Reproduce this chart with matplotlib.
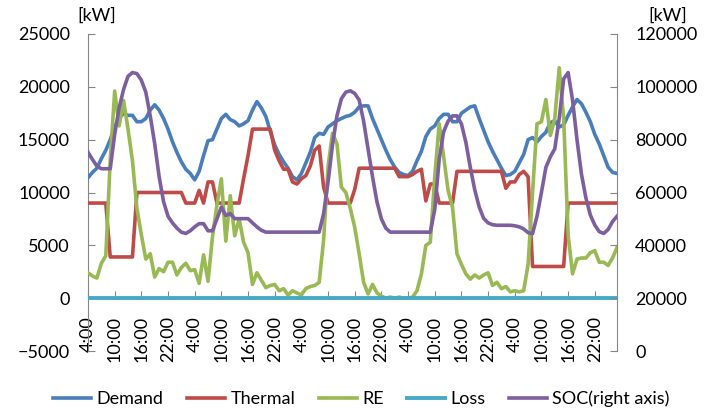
import matplotlib
matplotlib.use("Agg")
import matplotlib.pyplot as plt

plt.rcParams['font.family'] = ['Lato', 'DejaVu Sans']

# hourly values, 5 days starting at 4:00
demand = [11400, 11900, 12300, 13200, 14000, 15000, 16200, 17000, 17500, 17300, 17300, 16700,
          16700, 17000, 17800, 18300, 17800, 17000, 16000, 14800, 13800, 12900, 12200, 11800,
          11200, 12000, 13500, 14900, 15000, 16000, 17000, 17400, 16900, 16700, 16300, 16500,
          16800, 17800, 18600, 18000, 17200, 15800, 14500, 13600, 12900, 12300, 11500, 11200,
          11800, 12800, 13800, 15200, 15600, 15500, 16200, 16500, 16800, 17000, 17200, 17300,
          17600, 18100, 18200, 18200, 17000, 16000, 15000, 14000, 13100, 12400, 11900, 11700,
          11600, 12000, 13000, 13900, 15300, 16000, 16300, 17000, 17400, 17400, 16700, 16700,
          17500, 17800, 18100, 18200, 17000, 15900, 14800, 13900, 13100, 12300, 11600, 11700,
          12000, 12800, 13600, 15000, 15200, 14800, 15300, 15700, 16600, 16800, 16200, 16400,
          17300, 18100, 18800, 18400, 17600, 16700, 15500, 14600, 13500, 12400, 11900, 11800]

thermal = [9000, 9000, 9000, 9000, 9000, 3900, 3900, 3900, 3900, 3900, 3900, 10000,
           10000, 10000, 10000, 10000, 10000, 10000, 10000, 10000, 10000, 10000, 9000, 9000,
           9000, 10200, 9000, 11000, 11000, 9000, 9000, 9000, 9000, 9000, 9000, 11300,
           13500, 16000, 16000, 16000, 16000, 16000, 14000, 13000, 12200, 12200, 11000, 10800,
           11300, 11600, 12500, 14000, 14400, 10500, 9000, 9000, 9000, 9000, 9000, 9000,
           10300, 12300, 12300, 12300, 12300, 12300, 12300, 12300, 12300, 12300, 11500, 11500,
           11500, 11700, 12000, 12200, 9200, 10800, 10800, 9000, 9000, 9000, 9000, 12000,
           12000, 12000, 12000, 12000, 12000, 12000, 12000, 12000, 12000, 12000, 10400, 11000,
           11000, 11700, 12000, 11500, 3000, 3000, 3000, 3000, 3000, 3000, 3000, 3000,
           9000, 9000, 9000, 9000, 9000, 9000, 9000, 9000, 9000, 9000, 9000, 9000]

re = [2400, 2100, 1900, 3300, 4000, 13000, 19600, 16300, 18700, 16000, 13000, 8500,
      6000, 3700, 4200, 2000, 2800, 2500, 3400, 3400, 2200, 2900, 3300, 2600,
      2700, 1400, 4100, 1600, 5800, 8800, 11300, 5400, 9700, 5900, 7500, 5300,
      4300, 1300, 2400, 1700, 1000, 1200, 1300, 700, 900, 300, 700, 500,
      300, 900, 1100, 1200, 1500, 5500, 12500, 15600, 14600, 10500, 10000, 8500,
      6700, 4200, 1500, 400, 1300, 500, 200, 0, 100, 0, 100, 0,
      0, 100, 700, 2300, 5000, 5300, 11500, 16500, 13400, 10200, 8600, 4200,
      3200, 2300, 1800, 2200, 1900, 2200, 2400, 1200, 1500, 900, 1100, 600,
      700, 600, 700, 3200, 10000, 16500, 16700, 18800, 15400, 17000, 21800, 17000,
      6000, 2300, 3700, 3800, 3800, 4300, 4500, 3400, 3400, 3100, 3800, 4800]

loss = [0] * 120

soc = [75200, 72500, 70000, 69000, 69000, 69000, 82000, 92000, 99000, 104000, 105400, 105000,
       102500, 98000, 89000, 78500, 66000, 56500, 51000, 48500, 46500, 45000, 44500, 45500,
       47000, 48200, 48200, 45500, 45500, 50000, 54500, 51300, 52000, 50100, 50100, 50100,
       50100, 48500, 47000, 45700, 45000, 45000, 45000, 45000, 45000, 45000, 45000, 45000,
       45000, 45000, 45000, 45000, 45000, 52000, 64000, 78000, 89000, 95500, 98000, 98500,
       97500, 95000, 87000, 76500, 66000, 56500, 50000, 46500, 45000, 45000, 45000, 45000,
       45000, 45000, 45000, 45000, 45000, 45000, 53500, 72500, 83000, 87000, 89000, 89000,
       86000, 79000, 69500, 61000, 54500, 50200, 48500, 47800, 47600, 47600, 47600, 47600,
       47400, 47000, 46200, 44800, 44400, 51000, 60000, 69500, 73500, 76500, 88000, 103000,
       105400, 95000, 80000, 67000, 58000, 51500, 47700, 45200, 44500, 46000, 49000, 51000]

tick_labels = ['4:00', '10:00', '16:00', '22:00'] * 5

hours = list(range(len(demand)))
gray = '#868686'
fs = 13

fig = plt.figure(figsize=(7.09, 4.09), dpi=100)
ax = fig.add_axes([88 / 709, 1 - 351 / 409, (617 - 88) / 709, (351 - 34) / 409])
ax2 = ax.twinx()

l1, = ax.plot(hours, demand, color='#4A7EBB', lw=2.6, label='Demand', zorder=3)
l2, = ax.plot(hours, thermal, color='#BE4B48', lw=2.6, label='Thermal', zorder=3)
l3, = ax.plot(hours, re, color='#98B954', lw=2.6, label='RE', zorder=3)
l4, = ax.plot(hours, loss, color='#46AAC5', lw=2.8, label='Loss', zorder=3)
l5, = ax2.plot(hours, soc, color='#7D5FA0', lw=2.6, label='SOC(right axis)', zorder=3)

ax.set_xlim(0, len(demand) - 1)
ax.set_ylim(-5000, 25000)
ax.set_yticks(range(-5000, 25001, 5000))
ax2.set_ylim(0, 120000)
ax2.set_yticks(range(0, 120001, 20000))

ax.set_xticks(range(0, len(demand), 6))
ax.set_xticklabels(tick_labels)

for a in (ax, ax2):
    a.spines['top'].set_visible(False)
    for s in ('left', 'right', 'bottom'):
        a.spines[s].set_color(gray)
ax.spines['bottom'].set_position(('data', 0))
ax2.spines['bottom'].set_visible(False)
ax.spines['right'].set_visible(False)
ax2.spines['left'].set_visible(False)

ax.tick_params(axis='y', direction='in', length=5, color=gray, pad=13, labelsize=fs)
ax2.tick_params(axis='y', direction='in', length=5, color=gray, pad=13, labelsize=fs)
ax.tick_params(axis='x', direction='in', length=5, color=gray, pad=13, labelsize=fs,
               labelrotation=90)

fig.text(77 / 709, 1 - 16 / 409, '[kW]', fontsize=fs, va='center', ha='left')
fig.text(648 / 709, 1 - 16 / 409, '[kW]', fontsize=fs, va='center', ha='left')

handles = [l1, l2, l3, l4, l5]
fig.legend(handles, [h.get_label() for h in handles],
           loc='lower center', bbox_to_anchor=(0.51, -0.035), ncol=5, frameon=False,
           fontsize=fs, handlelength=2.1, columnspacing=1.3, handletextpad=0.3)

fig.savefig('out.png', dpi=100)
